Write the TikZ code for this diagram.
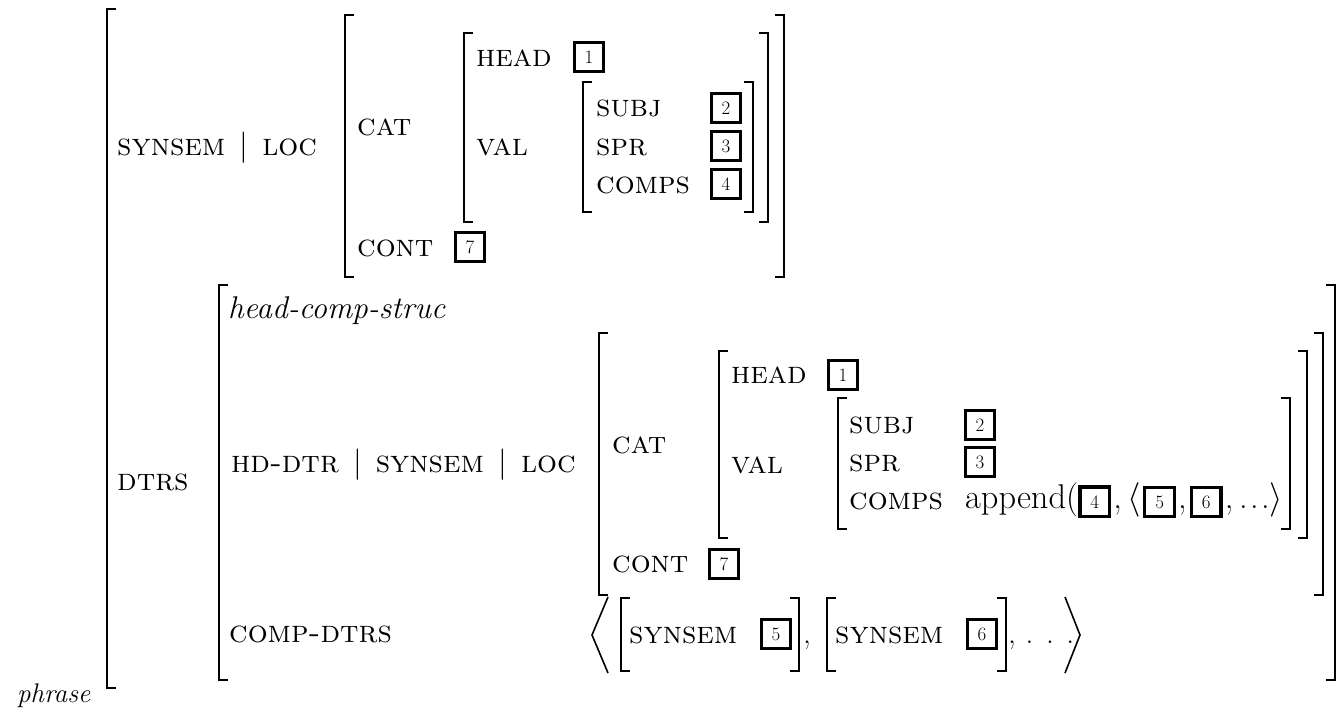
\RequirePackage{fix-cm}
\documentclass[tikz,border=0pt]{standalone}
\usetikzlibrary{positioning}
\newcommand\avmfont{\fontsize{31.5}{36}\selectfont}
\newcommand\bigfont{\fontsize{34.5}{40}\selectfont}
\newcommand\tagfont{\fontsize{19}{22}\selectfont}
\newcommand\pathbar{\hspace{0.45em}$|$\hspace{0.45em}}
\tikzset{
  attr/.style={anchor=base west, inner sep=0pt, font=\avmfont},
  tag/.style={draw, line width=3.2bp, minimum size=29.5bp, inner sep=0pt, font=\tagfont},
  brk/.style={line width=1.6bp},
}
\begin{document}
\begin{tikzpicture}[x=1bp,y=-1bp]
  \useasboundingbox (0,0) rectangle (1337,707);

  % brackets
  \foreach \x/\t/\b in {107/9/688, 345/15/277, 464/33/222, 583/82/212,
      219/285/680, 599/333/595, 719/351/538, 838/398/529, 621/598/671, 827/598/671}
    \draw[brk] ({\x+9},\t) -| (\x,\b) -- ({\x+9},\b);
  \foreach \x/\t/\b in {784/15/277, 768/33/222, 753/82/212,
      1335/285/680, 1323/333/595, 1307/351/538, 1290/398/529, 799/598/671, 1006/598/671}
    \draw[brk] ({\x-9},\t) -| (\x,\b) -- ({\x-9},\b);

  \node[attr, font=\fontsize{27}{32}\selectfont] (phrase) at (17,702) {\textit{phrase}};

  % synsem | loc
  \node[attr] (synloc) at (117,155) {\textsc{synsem}\pathbar\textsc{loc}};
  \node[attr] (cat) at (357,135) {\textsc{cat}};
  \node[attr] (cont) at (357,256) {\textsc{cont}};
  \node[tag] (tagcont) at (470,247) {7};
  \node[attr] (head) at (476,67) {\textsc{head}};
  \node[tag] (taghead) at (589,57) {1};
  \node[attr] (val) at (476,155) {\textsc{val}};
  \node[attr] (subj) at (596,117) {\textsc{subj}};
  \node[attr] (spr) at (596,155) {\textsc{spr}};
  \node[attr] (comps) at (596,193) {\textsc{comps}};
  \node[tag] (tagsubj) at (726,108) {2};
  \node[tag] (tagspr) at (726,146) {3};
  \node[tag] (tagcomps) at (726,184) {4};

  % dtrs
  \node[attr] (dtrs) at (117,490) {\textsc{dtrs}};
  \node[attr] (hcs) at (228,318) {\textit{head-comp-struc}};
  \node[attr] (hdloc) at (231,472) {\textsc{hd-dtr}\pathbar\textsc{synsem}\pathbar\textsc{loc}};
  \node[attr] (compdtrs) at (229,642) {\textsc{comp-dtrs}};
  \node[attr] (hcat) at (612,453) {\textsc{cat}};
  \node[attr] (hcont) at (612,572) {\textsc{cont}};
  \node[tag] (htagcont) at (724,564) {7};
  \node[attr] (hhead) at (731,383) {\textsc{head}};
  \node[tag] (htaghead) at (843,375) {1};
  \node[attr] (hval) at (731,473) {\textsc{val}};
  \node[attr] (hsubj) at (849,433) {\textsc{subj}};
  \node[attr] (hspr) at (849,471) {\textsc{spr}};
  \node[attr] (hcomps) at (849,509) {\textsc{comps}};
  \node[tag] (htagsubj) at (980,425) {2};
  \node[tag] (htagspr) at (980,462) {3};

  \node[attr, font=\bigfont] (append) at (965,508) {append(};
  \node[tag, base right=0pt of append] (app4) {4};
  \node[attr, font=\bigfont, base right=2bp of app4] (sep45) {,\,$\langle$};
  \node[tag, base right=2bp of sep45] (app5) {5};
  \node[attr, font=\bigfont, base right=2bp of app5] (sep56) {,};
  \node[tag, base right=3bp of sep56] (app6) {6};
  \node[attr, font=\bigfont, base right=2bp of app6] (apptail) {,\,.\kern.07em.\kern.07em.$\rangle$};

  % comp-dtrs list
  \draw[brk] (608,597) -- (592,635) -- (608,673);
  \draw[brk] (1065,597) -- (1080,635) -- (1065,673);
  \node[attr] (syn5) at (629,643) {\textsc{synsem}};
  \node[tag] (tagsyn5) at (776,634) {5};
  \node[attr] (comma56) at (803,643) {,};
  \node[attr] (syn6) at (835,643) {\textsc{synsem}};
  \node[tag] (tagsyn6) at (982,634) {6};
  \node[attr] (listtail) at (1008,643) {, . . .};
\end{tikzpicture}
\end{document}
